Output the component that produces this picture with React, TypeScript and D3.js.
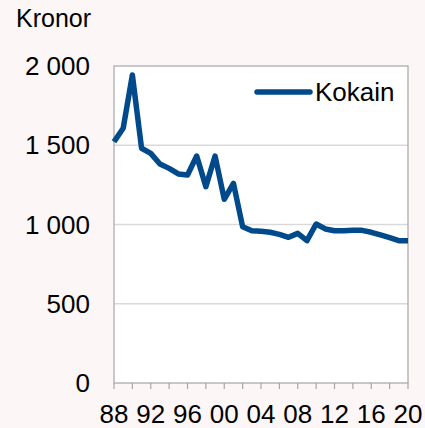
import * as React from "react";
import * as d3 from "d3";

// Kokain, kronor per gram, 1988-2020
const years: number[] = d3.range(1988, 2021);
const kokain: number[] = [
  1522, 1607, 1943, 1481, 1449, 1382, 1354, 1319, 1312, 1432,
  1239, 1432, 1159, 1260, 986, 961, 958, 951, 938, 919,
  944, 898, 1003, 972, 961, 961, 963, 963, 951, 934,
  917, 898, 898,
];
const yTicks: number[] = [0, 500, 1000, 1500, 2000];
const xLabelYears: number[] = [1988, 1992, 1996, 2000, 2004, 2008, 2012, 2016, 2020];
const seriesName = "Kokain";
const unitLabel = "Kronor";

const W = 425;
const H = 428;
const margin = { top: 66, right: 17, bottom: 45, left: 114 };
const font = "'Liberation Sans', Arial, sans-serif";
const blue = "#004a8c";

export default function App() {
  const ref = React.useRef<SVGSVGElement>(null);

  React.useEffect(() => {
    const width = W - margin.left - margin.right;
    const height = H - margin.top - margin.bottom;

    const svgRoot = d3.select(ref.current);
    svgRoot.selectAll("*").remove();

    svgRoot.append("rect").attr("width", W).attr("height", H).attr("fill", "#fcf6f6");

    const svg = svgRoot.append("g")
      .attr("transform", "translate(" + margin.left + "," + margin.top + ")");

    let x = d3.scaleLinear().domain([1988, 2020]).range([0, width]);
    let y = d3.scaleLinear().domain([0, 2000]).range([height, 0]);

    svg.append("rect")
      .attr("width", width).attr("height", height)
      .attr("fill", "#ffffff");

    // grid lines
    svg.selectAll(".grid")
      .data(yTicks.filter(t => t > 0 && t < 2000))
      .enter().append("line")
      .attr("x1", 0).attr("x2", width)
      .attr("y1", d => y(d)).attr("y2", d => y(d))
      .attr("stroke", "#d9d9d9").attr("stroke-width", 1.5);

    // plot border
    svg.append("rect")
      .attr("width", width).attr("height", height)
      .attr("fill", "none").attr("stroke", "#a6a6a6").attr("stroke-width", 1.2);

    // x tick marks every 2 years
    svg.selectAll(".xtick")
      .data(d3.range(1988, 2021, 2))
      .enter().append("line")
      .attr("x1", d => x(d)).attr("x2", d => x(d))
      .attr("y1", height).attr("y2", height + 6)
      .attr("stroke", "#a6a6a6").attr("stroke-width", 1.2);

    svg.selectAll(".xlabel")
      .data(xLabelYears)
      .enter().append("text")
      .attr("x", d => x(d))
      .attr("y", height + 40)
      .attr("text-anchor", "middle")
      .attr("font-family", font).attr("font-size", 26).attr("fill", "#000")
      .text(d => String(d % 100).padStart(2, "0"));

    const fmt = (v: number) => d3.format(",")(v).replace(/,/g, " ");
    svg.selectAll(".ylabel")
      .data(yTicks)
      .enter().append("text")
      .attr("x", -24)
      .attr("y", d => y(d))
      .attr("dy", "0.35em")
      .attr("text-anchor", "end")
      .attr("font-family", font).attr("font-size", 26).attr("fill", "#000")
      .text(d => fmt(d));

    svgRoot.append("text")
      .attr("x", 16).attr("y", 27)
      .attr("font-family", font).attr("font-size", 25).attr("fill", "#000")
      .text(unitLabel);

    const valueline = d3.line<number>()
      .x((d, i) => x(years[i]))
      .y(d => y(d));

    svg.append("path")
      .datum(kokain)
      .attr("d", valueline)
      .attr("fill", "none")
      .attr("stroke", blue)
      .attr("stroke-width", 5.5)
      .attr("stroke-linejoin", "round");

    // legend
    const lg = svgRoot.append("g").attr("transform", "translate(257,92)");
    lg.append("line")
      .attr("x1", 0).attr("x2", 53).attr("y1", 0).attr("y2", 0)
      .attr("stroke", blue).attr("stroke-width", 5.5).attr("stroke-linecap", "round");
    lg.append("text")
      .attr("x", 58).attr("y", 0).attr("dy", "0.35em")
      .attr("font-family", font).attr("font-size", 26).attr("fill", "#000")
      .text(seriesName);
  }, []);

  return (
    <svg ref={ref} width={W} height={H}
      style={{ position: "absolute", left: 0, top: 0, display: "block" }} />
  );
}
